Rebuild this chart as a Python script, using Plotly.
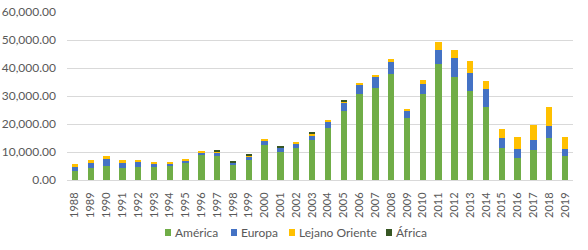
import plotly.graph_objects as go

years = [str(y) for y in range(1988, 2020)]

america = [3200, 4300, 5130, 4300, 4650, 4650, 5010, 6090, 8950, 8590,
           5370, 7160, 12530, 10020, 11460, 14320, 18620, 24700, 30790, 32940,
           37950, 22200, 30790, 41530, 36870, 31860, 26130, 11460, 7880, 10740,
           15040, 8590]
europa = [1430, 1790, 2390, 1790, 1790, 1080, 720, 710, 720, 1080,
          720, 1070, 1430, 1560, 1430, 1430, 2140, 2870, 3220, 3930,
          4290, 2500, 3580, 5010, 6810, 6450, 6450, 3580, 3220, 3580,
          4290, 2510]
lejano = [1080, 1070, 1070, 1070, 720, 360, 710, 360, 710, 350,
          0, 360, 360, 0, 360, 720, 360, 350, 360, 720,
          1080, 720, 1430, 2860, 2860, 4290, 2860, 3220, 4290, 5370,
          6800, 4290]
africa = [0, 0, 0, 0, 0, 0, 0, 0, 0, 360,
          350, 360, 0, 350, 0, 360, 0, 360, 0, 0,
          0, 0, 0, 0, 0, 0, 0, 0, 0, 0,
          0, 0]

series_names = ["América", "Europa", "Lejano Oriente", "África"]
series_values = [america, europa, lejano, africa]
series_colors = ["#70AD47", "#4472C4", "#FFC000", "#375623"]

W, H = 588, 250
ML, MR, MT, MB = 67, 15, 12, 70
PW, PH = W - ML - MR, H - MT - MB

fig = go.Figure()
for name, vals, col in zip(series_names, series_values, series_colors):
    fig.add_trace(go.Bar(x=years, y=vals, name=name, marker_color=col,
                         marker_line_width=0, showlegend=False))

# legend drawn manually (Excel style, compact, centred on chart)
legend_left_px = [165, 231, 289, 386]
leg_cy = 232.5
shapes, annots = [], []
for name, col, lx in zip(series_names, series_colors, legend_left_px):
    x0 = (lx - ML) / PW
    x1 = (lx + 6 - ML) / PW
    y0 = (H - MB - (leg_cy + 3.5)) / PH
    y1 = (H - MB - (leg_cy - 3.5)) / PH
    shapes.append(dict(type="rect", xref="paper", yref="paper",
                       x0=x0, x1=x1, y0=y0, y1=y1,
                       fillcolor=col, line_width=0))
    annots.append(dict(text=name, xref="paper", yref="paper",
                       x=(lx + 7.5 - ML) / PW, y=(H - MB - leg_cy) / PH,
                       xanchor="left", yanchor="middle", showarrow=False,
                       font=dict(family="Lato", size=12, color="#595959")))

fig.update_layout(
    barmode="stack",
    bargap=0.6,
    width=W, height=H,
    margin=dict(l=ML, r=MR, t=MT, b=MB),
    paper_bgcolor="white", plot_bgcolor="white",
    font=dict(family="Lato", size=11, color="#595959"),
    showlegend=False,
    shapes=shapes,
    annotations=annots,
)
fig.update_xaxes(type="category", tickangle=-90, showline=True,
                 linecolor="#D9D9D9", linewidth=1, ticks="",
                 automargin=False, ticklabelstandoff=7,
                 tickfont=dict(size=11, color="#595959"))
fig.update_yaxes(range=[0, 60000], dtick=10000, tickformat=",.2f",
                 showgrid=True, gridcolor="#D9D9D9", gridwidth=1,
                 zeroline=False, ticks="", automargin=False,
                 ticklabelstandoff=10,
                 tickfont=dict(size=12, color="#595959"))

fig.write_html("out.html",
               config={"displayModeBar": False},
               post_script="document.body.style.margin='0';"
                           "document.body.style.overflow='hidden';")
